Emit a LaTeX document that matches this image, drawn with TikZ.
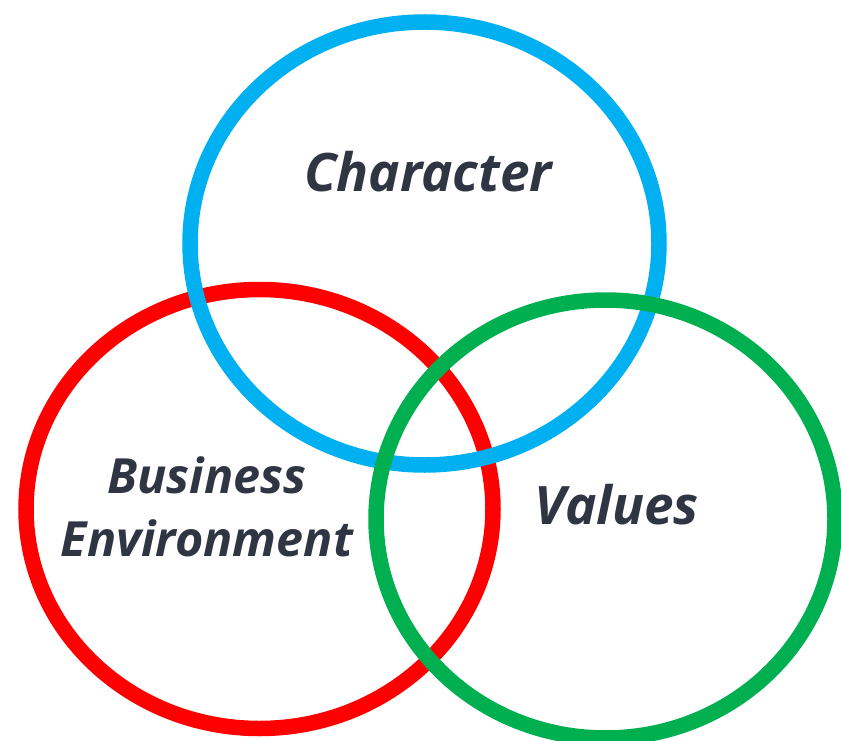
\documentclass[tikz,border=0pt]{standalone}
\usepackage{fontspec}
\setmainfont{Open Sans}
\begin{document}
\begin{tikzpicture}[x=1pt,y=-1pt]
  \definecolor{ringblue}{HTML}{00B0F0}
  \definecolor{ringred}{HTML}{FF0000}
  \definecolor{ringgreen}{HTML}{00B050}
  \definecolor{labelink}{HTML}{2F3542}
  \tikzset{
    ring/.style={line width=15.5pt},
    label/.style={text=labelink, font=\bfseries\itshape\fontsize{53}{60}\selectfont, align=center, inner sep=0pt}
  }
  \useasboundingbox (0,0) rectangle (841,741);
  \fill[white] (0,0) rectangle (841,741);
  % ring centres
  \coordinate (cred)   at (259.5,509);
  \coordinate (cblue)  at (424.5,243.5);
  \coordinate (cgreen) at (605.5,519);
  % rings, red underneath, green on top
  \draw[ring, ringred]   (cred)   ellipse [x radius=233.5, y radius=219.5];
  \draw[ring, ringblue]  (cblue)  ellipse [x radius=234.5, y radius=221.5];
  \draw[ring, ringgreen] (cgreen) ellipse [x radius=229.5, y radius=219];
  % labels
  \node[label] (character) at (428,172) {Character};
  \node[label, font=\bfseries\itshape\fontsize{48.5}{63}\selectfont] (business) at (207,507) {Business\\Environment};
  \node[label] (values) at (617,505) {Values};
\end{tikzpicture}
\end{document}
